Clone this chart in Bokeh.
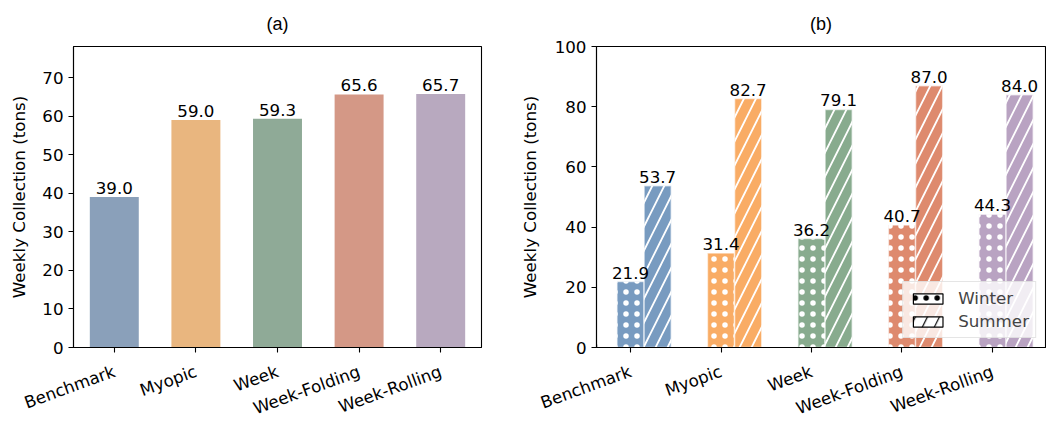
import math
from bokeh.plotting import figure
from bokeh.models import (FixedTicker, Range1d, ColumnDataSource, Legend, LegendItem, LabelSet)
from bokeh.core.properties import value
from bokeh.layouts import row
from bokeh.embed import file_html
from bokeh.resources import INLINE

categories = ["Benchmark", "Myopic", "Week", "Week-Folding", "Week-Rolling"]
overall = [39.0, 59.0, 59.3, 65.6, 65.7]
winter = [21.9, 31.4, 36.2, 40.7, 44.3]
summer = [53.7, 82.7, 79.1, 87.0, 84.0]
yticks_a = [0, 10, 20, 30, 40, 50, 60, 70]
yticks_b = [0, 20, 40, 60, 80, 100]
colors_a = ["#8AA0BA", "#E9B67F", "#8FAA97", "#D49886", "#B8A9BF"]
colors_b = ["#789BC0", "#F9AC65", "#88AB8E", "#DE8A6E", "#B9A3C2"]

FONT = "DejaVu Sans"
TFONT = "Liberation Sans"
FS = "16.7px"
xpos = list(range(len(categories)))


def style(p, yticks, label_standoff):
    p.outline_line_color = "black"
    p.outline_line_width = 1.1
    p.xgrid.visible = False
    p.ygrid.visible = False
    p.xaxis.ticker = FixedTicker(ticks=xpos)
    p.xaxis.major_label_overrides = {i: c for i, c in zip(xpos, categories)}
    p.xaxis.major_label_orientation = math.radians(20)
    p.yaxis.ticker = FixedTicker(ticks=yticks)
    for ax in (p.xaxis[0], p.yaxis[0]):
        ax.axis_line_color = "black"
        ax.axis_line_width = 1.1
        ax.major_tick_line_color = "black"
        ax.major_tick_line_width = 1.1
        ax.major_tick_out = 5
        ax.major_tick_in = 0
        ax.minor_tick_out = 0
        ax.minor_tick_in = 0
        ax.major_label_text_font = FONT
        ax.major_label_text_font_size = FS
        ax.major_label_text_color = "black"
        ax.major_label_standoff = 5
        ax.axis_label_text_font = FONT
        ax.axis_label_text_font_size = FS
        ax.axis_label_text_font_style = "normal"
        ax.axis_label_text_color = "black"
    p.xaxis.major_label_standoff = 18
    p.yaxis.axis_label = "Weekly Collection (tons)"
    p.yaxis.axis_label_standoff = label_standoff
    p.title.align = "center"
    p.title.vertical_align = "top"
    p.title.text_font = TFONT
    p.title.text_font_size = "18px"
    p.title.text_font_style = "normal"
    p.title.text_color = "black"
    p.title.standoff = 22


# ---------------- (a)
pa = figure(frame_width=408, frame_height=301, min_border_left=73, min_border_right=29,
            min_border_top=46, min_border_bottom=77, title="(a)",
            x_range=Range1d(-0.5, 4.5), y_range=Range1d(0, 78.04),
            output_backend="svg", toolbar_location=None)
style(pa, yticks_a, 10)
src_a = ColumnDataSource(dict(x=xpos, top=overall, color=colors_a,
                              label=["%.1f" % v for v in overall]))
pa.vbar(x="x", top="top", width=0.6, fill_color="color", line_color=None, source=src_a)
pa.add_layout(LabelSet(x="x", y="top", text="label", source=src_a, text_align="center",
                       text_baseline="bottom", text_font=value(FONT),
                       text_font_size=value(FS), text_color="black", y_offset=3))

# ---------------- (b)
bw = 0.3
xs = [x + bw for x in xpos]
pb = figure(frame_width=449, frame_height=301, min_border_left=86, min_border_right=1,
            min_border_top=46, min_border_bottom=77, title="(b)",
            x_range=Range1d(-0.376, 4.586), y_range=Range1d(0, 100),
            output_backend="svg", toolbar_location=None)
style(pb, yticks_b, 12)

src_w = ColumnDataSource(dict(x=xpos, top=winter, color=colors_b,
                              label=["%.1f" % v for v in winter]))
src_s = ColumnDataSource(dict(x=xs, top=summer, color=colors_b,
                              label=["%.1f" % v for v in summer]))
pb.vbar(x="x", top="top", width=bw, fill_color="color", line_color="white", line_alpha=0.6,
        line_width=1.5, hatch_pattern="dot", hatch_color="white", hatch_scale=11,
        hatch_weight=0.3, source=src_w)
pb.vbar(x="x", top="top", width=bw, fill_color="color", line_color="white", line_alpha=0.6,
        line_width=1.5, hatch_pattern="right_diagonal_line", hatch_color="white",
        hatch_scale=24, hatch_weight=1.8, source=src_s)
for s in (src_w, src_s):
    pb.add_layout(LabelSet(x="x", y="top", text="label", source=s, text_align="center",
                           text_baseline="bottom", text_font=value(FONT),
                           text_font_size=value(FS), text_color="black", y_offset=3))

# legend dummies (outside the visible range)
lw = pb.vbar(x=[-10], top=[1], width=bw, fill_color="white", line_color="black", line_width=1.2,
             hatch_pattern="dot", hatch_color="black", hatch_scale=11, hatch_weight=0.3)
ls = pb.vbar(x=[-10], top=[1], width=bw, fill_color="white", line_color="black", line_width=1.2,
             hatch_pattern="right_diagonal_line", hatch_color="black", hatch_scale=24,
             hatch_weight=1.2)
leg = Legend(items=[LegendItem(label="Winter", renderers=[lw]),
                    LegendItem(label="Summer", renderers=[ls])],
             location="bottom_right", margin=9, padding=6, spacing=3,
             glyph_width=37, glyph_height=13, label_standoff=12,
             label_text_font=FONT, label_text_font_size=FS,
             border_line_color="#cccccc", border_line_width=1,
             background_fill_alpha=0.8)
pb.add_layout(leg)

layout = row(pa, pb)
open("out.html", "w").write(file_html(layout, INLINE))
